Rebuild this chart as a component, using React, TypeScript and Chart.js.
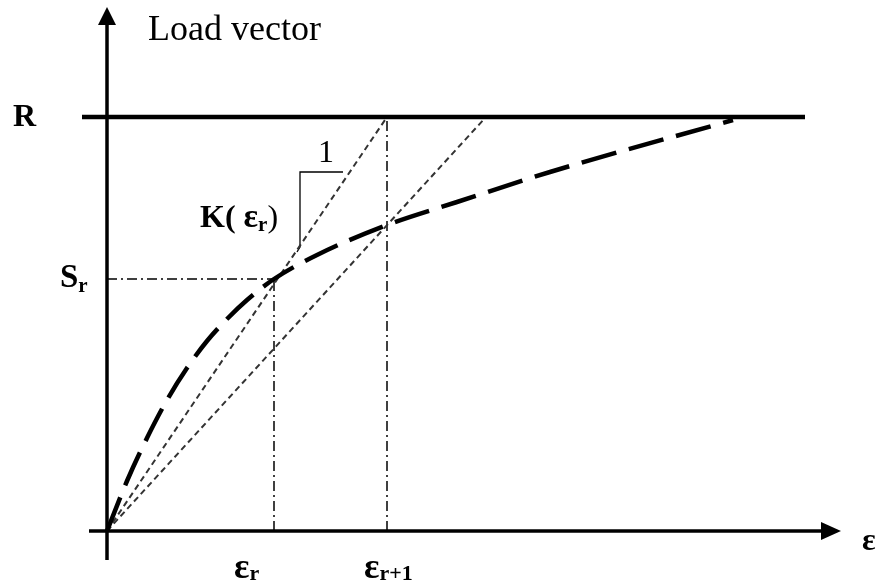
import React, { useEffect, useRef } from "react";
import { Chart, registerables } from "chart.js";
Chart.register(...registerables);

// Load-displacement curve (dashed)
const curveX = [0, 0.2, 0.4, 0.6, 0.8, 1.0, 1.2, 1.4, 1.67, 2.1, 2.8, 3.5, 4.43, 6.26];
const curveY = [0, 0.5, 0.93, 1.31, 1.63, 1.9, 2.12, 2.31, 2.52, 2.76, 3.06, 3.29, 3.59, 4.11];
// key values
const loadR = 4.14;
const epsR = 1.67;
const epsR1 = 2.8;
const sR = 2.52;
const secantEnd = 3.79;
const rLineStart = -0.25;
const rLineEnd = 6.98;
// axes extents
const yAxisBottom = -0.29;
const yAxisTip = 5.24;
const xAxisLeft = -0.18;
const xAxisTip = 7.34;
// bracket "1"
const bracketX = [1.9, 1.93, 1.93, 2.36];
const bracketY = [2.79, 2.84, 3.59, 3.59];

const FONT = "'Liberation Serif', 'Times New Roman', serif";

type Run = { t: string; size: number; bold?: boolean; dy?: number };
type Label = { x: number; y: number; runs: Run[] };

const labels: Label[] = [
  { x: 0.41, y: 4.91, runs: [{ t: "Load vector", size: 36 }] },
  { x: -0.94, y: 4.05, runs: [{ t: "R", size: 32, bold: true }] },
  { x: 2.11, y: 3.69, runs: [{ t: "1", size: 32 }] },
  {
    x: 0.93,
    y: 3.04,
    runs: [
      { t: "K( ", size: 32, bold: true },
      { t: "ε", size: 34, bold: true },
      { t: "r", size: 21, bold: true, dy: 4 },
      { t: ")", size: 32 },
    ],
  },
  {
    x: -0.47,
    y: 2.44,
    runs: [
      { t: "S", size: 33, bold: true },
      { t: "r", size: 21, bold: true, dy: 5 },
    ],
  },
  {
    x: 1.27,
    y: -0.47,
    runs: [
      { t: "ε", size: 36, bold: true },
      { t: "r", size: 22, bold: true, dy: 2 },
    ],
  },
  {
    x: 2.57,
    y: -0.47,
    runs: [
      { t: "ε", size: 36, bold: true },
      { t: "r+1", size: 22, bold: true, dy: 2 },
    ],
  },
  { x: 7.55, y: -0.19, runs: [{ t: "ε", size: 32, bold: true }] },
];

const zip = (xs: number[], ys: number[]) => xs.map((x, i) => ({ x, y: ys[i] }));

const overlay = {
  id: "overlay",
  afterDatasetsDraw(chart: any) {
    const { ctx } = chart;
    const sx = chart.scales.x;
    const sy = chart.scales.y;
    const px = (v: number) => sx.getPixelForValue(v);
    const py = (v: number) => sy.getPixelForValue(v);
    ctx.save();
    ctx.fillStyle = "#000";
    // y-axis arrow
    const yt = py(yAxisTip);
    const x0 = px(0);
    ctx.beginPath();
    ctx.moveTo(x0, yt);
    ctx.lineTo(x0 - 9, yt + 18);
    ctx.lineTo(x0 + 9, yt + 18);
    ctx.closePath();
    ctx.fill();
    // x-axis arrow
    const xt = px(xAxisTip);
    const y0 = py(0);
    ctx.beginPath();
    ctx.moveTo(xt, y0);
    ctx.lineTo(xt - 20, y0 - 9);
    ctx.lineTo(xt - 20, y0 + 9);
    ctx.closePath();
    ctx.fill();
    // labels
    ctx.textBaseline = "alphabetic";
    ctx.textAlign = "left";
    for (const l of labels) {
      let cx = px(l.x);
      const by = py(l.y);
      for (const r of l.runs) {
        ctx.font = `${r.bold ? "bold " : ""}${r.size}px ${FONT}`;
        ctx.fillText(r.t, cx, by + (r.dy || 0));
        cx += ctx.measureText(r.t).width;
      }
    }
    ctx.restore();
  },
};

export default function App() {
  const ref = useRef<HTMLCanvasElement | null>(null);
  useEffect(() => {
    if (!ref.current) return;
    const dotted = {
      borderColor: "#333",
      borderWidth: 2,
      borderDash: [6, 4],
      pointRadius: 0,
      fill: false,
    };
    const dashDot = {
      borderColor: "#000",
      borderWidth: 1.5,
      borderDash: [10, 4, 2, 4],
      pointRadius: 0,
      fill: false,
    };
    const solid = (w: number) => ({
      borderColor: "#000",
      borderWidth: w,
      pointRadius: 0,
      fill: false,
    });
    const chart = new Chart(ref.current, {
      type: "line",
      data: {
        datasets: [
          {
            label: "curve",
            data: zip(curveX, curveY),
            borderColor: "#000",
            borderWidth: 4.5,
            borderDash: [36, 13],
            pointRadius: 0,
            fill: false,
            cubicInterpolationMode: "monotone",
            order: 0,
          } as any,
          { label: "R", data: [{ x: rLineStart, y: loadR }, { x: rLineEnd, y: loadR }], ...solid(4.5), order: 1 },
          { label: "tangent", data: [{ x: 0, y: 0 }, { x: epsR1, y: loadR }], ...dotted, order: 2 },
          { label: "secant", data: [{ x: 0, y: 0 }, { x: secantEnd, y: loadR }], ...dotted, order: 2 },
          { label: "h-sr", data: [{ x: 0, y: sR }, { x: epsR, y: sR }], ...dashDot, order: 3 },
          { label: "v-er", data: [{ x: epsR, y: 0 }, { x: epsR, y: sR }], ...dashDot, order: 3 },
          { label: "v-er1", data: [{ x: epsR1, y: 0 }, { x: epsR1, y: loadR }], ...dashDot, order: 3 },
          { label: "y-axis", data: [{ x: 0, y: yAxisBottom }, { x: 0, y: yAxisTip - 0.1 }], ...solid(3.5), order: 1 },
          { label: "x-axis", data: [{ x: xAxisLeft, y: 0 }, { x: xAxisTip - 0.1, y: 0 }], ...solid(3.5), order: 1 },
          { label: "bracket", data: zip(bracketX, bracketY), ...solid(1.3), order: 2 },
        ],
      },
      options: {
        animation: false,
        responsive: false,
        maintainAspectRatio: false,
        devicePixelRatio: 1,
        layout: { padding: 0 },
        plugins: { legend: { display: false }, tooltip: { enabled: false } },
        elements: { line: { tension: 0 } },
        scales: {
          x: { type: "linear", min: -1.07, max: 7.7, display: false },
          y: { type: "linear", min: -0.56, max: 5.31, display: false },
        },
      },
      plugins: [overlay],
    });
    return () => chart.destroy();
  }, []);
  return (
    <div style={{ position: "fixed", left: 0, top: 0, width: 877, height: 587, background: "#fff" }}>
      <canvas ref={ref} width={877} height={587} />
    </div>
  );
}
